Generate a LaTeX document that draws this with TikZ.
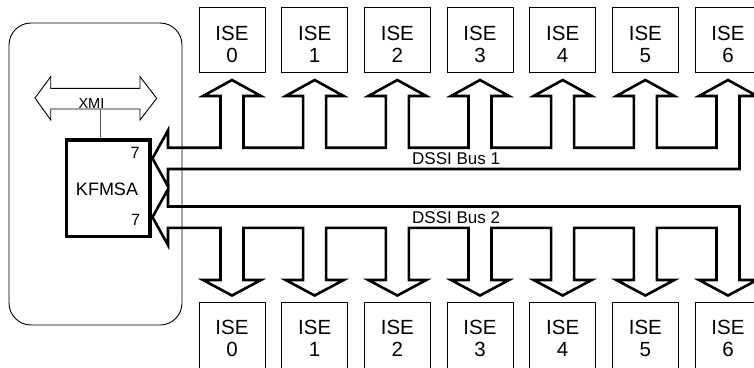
\documentclass[tikz,border=0pt]{standalone}
\usepackage{fontspec}
\setmainfont{Liberation Sans}
\begin{document}
\begin{tikzpicture}[x=1pt,y=-1pt,
  isebox/.style={draw, line width=1pt, minimum width=66pt, minimum height=65.4pt, inner sep=0pt},
  isetext/.style={font=\fontsize{20.5}{22}\selectfont, align=center, inner sep=0pt},
  bus/.style={line width=2.6pt, line join=miter, miter limit=12},
  buslbl/.style={font=\fontsize{17}{20}\selectfont, inner sep=0pt, anchor=base west},
  portlbl/.style={font=\fontsize{16.3}{18}\selectfont, inner sep=0pt, anchor=base east},
  thin/.style={line width=0.9pt},
]
\useasboundingbox (0,0) rectangle (754,367);

% system panel
\node[draw, thin, rounded corners=22pt, minimum width=173pt, minimum height=302pt, inner sep=0pt] (panel) at (95.5,174) {};

% KFMSA adapter
\node[draw, line width=3.3pt, minimum width=83.3pt, minimum height=96.7pt, inner sep=0pt] (k) at (108.35,188.35) {};
\node[font=\fontsize{18}{20}\selectfont, inner sep=0pt, anchor=base] (kt) at (107,195) {KFMSA};
\node[portlbl] (p1) at (140,158.3) {7};
\node[portlbl] (p2) at (140.3,225) {7};

% XMI bus
\draw[thin, line join=miter] (35,98) -- (50.7,76.7) -- (50.7,88.3) -- (140,88.3) -- (140,76.7)
  -- (156.7,98.3) -- (140,120) -- (140,109) -- (50.7,109) -- (50.7,120) -- cycle;
\node[font=\fontsize{14.5}{16}\selectfont, inner sep=0pt, anchor=base] (xmi) at (91.4,108.3) {XMI};
\coordinate (xmib) at (100.7,109);
\draw[line width=0.9pt, black!65] (xmib) -- (xmib |- k.north);

% ISE boxes
\foreach \i in {0,...,6} {
  \pgfmathsetmacro{\c}{232+82.667*\i}
  \node[isebox] (t\i) at (\c,40) {};
  \node[isetext] (tt\i) at (\c,44.3) {ISE\\\i};
  \node[isebox] (b\i) at (\c,335.35) {};
  \node[isetext] (bt\i) at (\c,338.4) {ISE\\\i};
}

% DSSI Bus 1
\draw[bus] (152.5,158.35) -- (168,130.35) -- (168,147.7)
  \foreach \i [evaluate=\i as \c using 232+82.667*\i] in {0,...,5} {
    -- ({\c-11.5},147.7) -- ({\c-11.5},96) -- ({\c-29},96) -- (\c,80)
    -- ({\c+29},96) -- ({\c+11.5},96) -- ({\c+11.5},147.7)
  }
  -- (716.5,147.7) -- (716.5,96) -- (699,96) -- (728,80) -- (757,96) -- (739.5,96)
  -- (739.5,169) -- (168,169) -- (168,186.35) -- cycle;
\node[buslbl] (bus1) at (412,164.5) {DSSI Bus 1};

% DSSI Bus 2
\draw[bus] (152.5,217.15) -- (168,189.15) -- (168,206.5) -- (739.5,206.5)
  -- (739.5,280) -- (757,280) -- (728,295.5) -- (699,280) -- (716.5,280) -- (716.5,227.8)
  \foreach \i [evaluate=\i as \c using 232+82.667*(5-\i)] in {0,...,5} {
    -- ({\c+11.5},227.8) -- ({\c+11.5},280) -- ({\c+29},280) -- (\c,295.5)
    -- ({\c-29},280) -- ({\c-11.5},280) -- ({\c-11.5},227.8)
  }
  -- (168,227.8) -- (168,245.15) -- cycle;
\node[buslbl] (bus2) at (412,223.3) {DSSI Bus 2};
\end{tikzpicture}
\end{document}
